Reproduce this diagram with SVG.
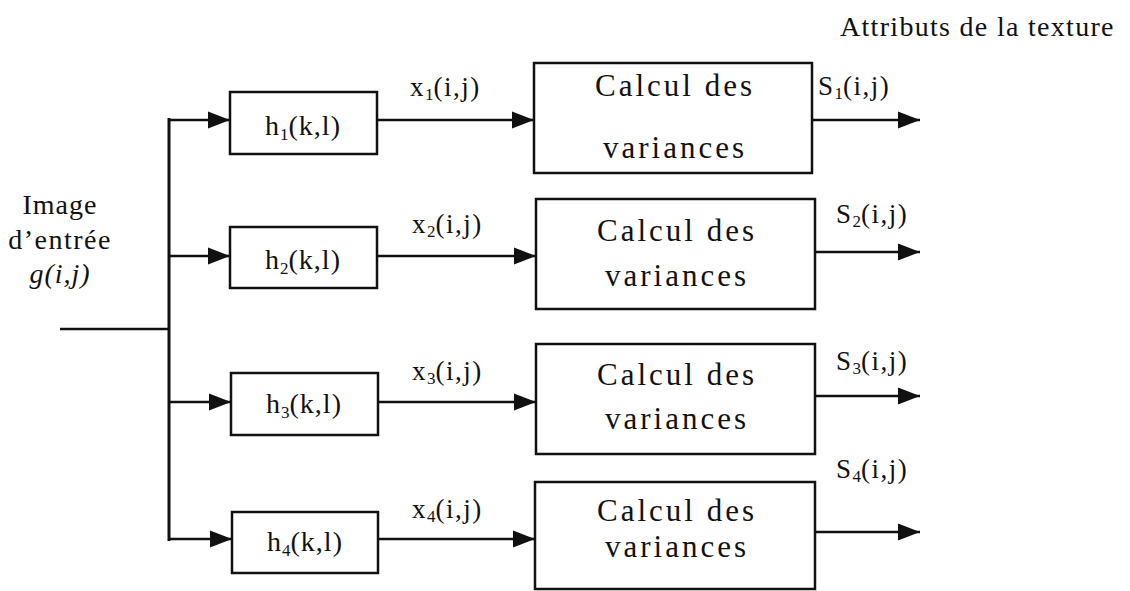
<svg xmlns="http://www.w3.org/2000/svg" width="1130" height="591" viewBox="0 0 1130 591">
<defs>
<style>
.ln{stroke:#111;stroke-width:2.5;fill:none}
.bx{stroke:#111;stroke-width:2.5;fill:#fff}
.cal{font-size:31px;letter-spacing:3px;text-anchor:middle}
.hl{font-size:28px;letter-spacing:1px;text-anchor:middle}
.lb{font-size:27px;letter-spacing:1.5px}
.sb{font-size:17px;letter-spacing:0}
</style>
<marker id="ah" markerUnits="userSpaceOnUse" markerWidth="24" markerHeight="20" refX="22" refY="10" orient="auto">
<path d="M0,1.5 L22,10 L0,18.5 Z" fill="#111"/>
</marker>
</defs>
<rect width="1130" height="591" fill="#fff"/>
<g font-family="'Liberation Serif', 'Times New Roman', Times, serif" fill="#111">

<g id="connectors">
<line class="ln" x1="60" y1="329" x2="169" y2="329"/>
<line class="ln" x1="169" y1="118" x2="169" y2="541" style="stroke-width:3"/>
<line class="ln" x1="169" y1="120" x2="230" y2="120" marker-end="url(#ah)"/>
<line class="ln" x1="169" y1="256" x2="230" y2="256" marker-end="url(#ah)"/>
<line class="ln" x1="169" y1="402" x2="231" y2="402" marker-end="url(#ah)"/>
<line class="ln" x1="169" y1="539" x2="232" y2="539" marker-end="url(#ah)"/>
<line class="ln" x1="377" y1="120" x2="534" y2="120" marker-end="url(#ah)"/>
<line class="ln" x1="377" y1="256" x2="536" y2="256" marker-end="url(#ah)"/>
<line class="ln" x1="378" y1="402" x2="536" y2="402" marker-end="url(#ah)"/>
<line class="ln" x1="378" y1="539" x2="535" y2="539" marker-end="url(#ah)"/>
<line class="ln" x1="812" y1="120" x2="920" y2="120" marker-end="url(#ah)"/>
<line class="ln" x1="815" y1="252" x2="920" y2="252" marker-end="url(#ah)"/>
<line class="ln" x1="815" y1="396" x2="920" y2="396" marker-end="url(#ah)"/>
<line class="ln" x1="815" y1="532" x2="920" y2="532" marker-end="url(#ah)"/>
<text class="lb" x="410" y="96">x<tspan class="sb" dy="4">1</tspan><tspan dy="-4">(i,j)</tspan></text>
<text class="lb" x="412" y="233">x<tspan class="sb" dy="4">2</tspan><tspan dy="-4">(i,j)</tspan></text>
<text class="lb" x="412" y="380">x<tspan class="sb" dy="4">3</tspan><tspan dy="-4">(i,j)</tspan></text>
<text class="lb" x="412" y="518">x<tspan class="sb" dy="4">4</tspan><tspan dy="-4">(i,j)</tspan></text>
<text class="lb" x="818" y="95">S<tspan class="sb" dy="4">1</tspan><tspan dy="-4">(i,j)</tspan></text>
<text class="lb" x="836" y="223">S<tspan class="sb" dy="4">2</tspan><tspan dy="-4">(i,j)</tspan></text>
<text class="lb" x="836" y="370">S<tspan class="sb" dy="4">3</tspan><tspan dy="-4">(i,j)</tspan></text>
<text class="lb" x="836" y="478">S<tspan class="sb" dy="4">4</tspan><tspan dy="-4">(i,j)</tspan></text>
</g>

<g id="input">
<text x="60" y="214" text-anchor="middle" font-size="28" letter-spacing="1">Image</text>
<text x="60" y="249" text-anchor="middle" font-size="28" letter-spacing="1.5">d’entrée</text>
<text x="60" y="283" text-anchor="middle" font-size="28" font-style="italic" letter-spacing="1">g(i,j)</text>
</g>

<g id="title">
<text x="840" y="36" font-size="28" letter-spacing="1.3">Attributs de la texture</text>
</g>

<g id="h1"><rect class="bx" x="230" y="92" width="147" height="62"/>
<text class="hl" x="303" y="135">h<tspan class="sb" dy="5">1</tspan><tspan dy="-5">(k,l)</tspan></text></g>
<g id="h2"><rect class="bx" x="230" y="227" width="147" height="61"/>
<text class="hl" x="303" y="269">h<tspan class="sb" dy="5">2</tspan><tspan dy="-5">(k,l)</tspan></text></g>
<g id="h3"><rect class="bx" x="231" y="373" width="147" height="62"/>
<text class="hl" x="304" y="413">h<tspan class="sb" dy="5">3</tspan><tspan dy="-5">(k,l)</tspan></text></g>
<g id="h4"><rect class="bx" x="232" y="512" width="146" height="61"/>
<text class="hl" x="305" y="551">h<tspan class="sb" dy="5">4</tspan><tspan dy="-5">(k,l)</tspan></text></g>

<g id="c1"><rect class="bx" x="534" y="63" width="278" height="110"/>
<text class="cal" x="675" y="96">Calcul des</text><text class="cal" x="675" y="158">variances</text></g>
<g id="c2"><rect class="bx" x="536" y="199" width="279" height="110"/>
<text class="cal" x="677" y="241">Calcul des</text><text class="cal" x="677" y="286">variances</text></g>
<g id="c3"><rect class="bx" x="536" y="344" width="279" height="110"/>
<text class="cal" x="677" y="385">Calcul des</text><text class="cal" x="677" y="429">variances</text></g>
<g id="c4"><rect class="bx" x="535" y="482" width="280" height="107"/>
<text class="cal" x="677" y="521">Calcul des</text><text class="cal" x="677" y="557">variances</text></g>
</g>
</svg>
